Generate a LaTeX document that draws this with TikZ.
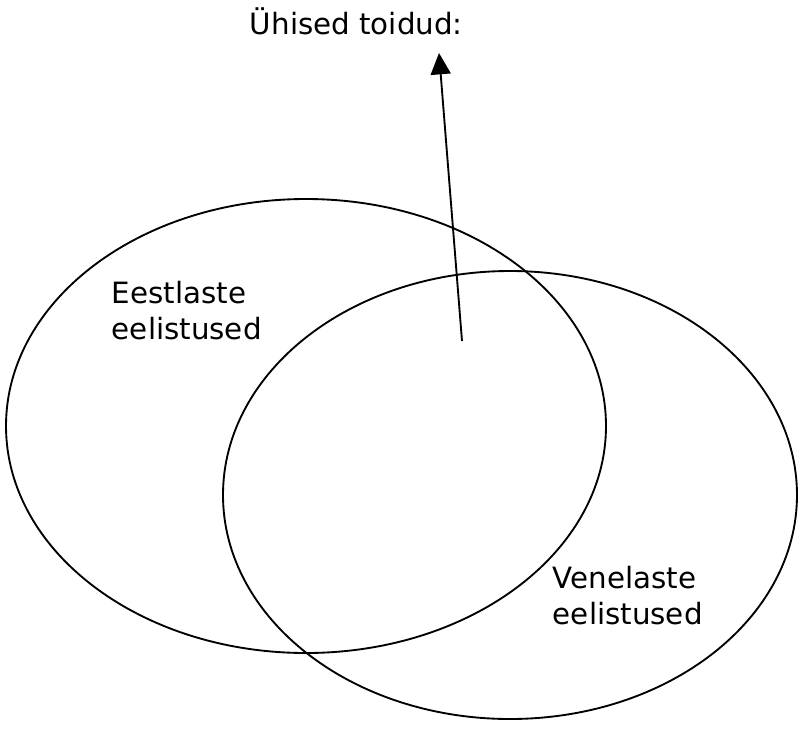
\documentclass[tikz,border=0pt]{standalone}
\usepackage{fontspec}
\setmainfont{DejaVu Sans}
\usetikzlibrary{arrows.meta,positioning}

\begin{document}
\begin{tikzpicture}[x=0.75pt,y=-0.75pt,
		set/.style={line width=1.4pt},
		label/.style={align=left,inner sep=0pt,font=\fontsize{22}{26.5}\selectfont},
		>={Triangle[length=16pt,width=15pt]},line width=1.4pt]
	\useasboundingbox (0,0) rectangle (800,729);
	\draw[set] (306,426) ellipse [x radius=300,y radius=227];
	\draw[set] (510,495) ellipse [x radius=287,y radius=224];
	\node[label,anchor=base west] (common) at (249,34) {Ühised toidud:};
	\node[label,anchor=base west] (est) at (111,339) {Eestlaste\\eelistused};
	\node[label,anchor=base west] (rus) at (552,624) {Venelaste\\eelistused};
	\coordinate (start) at (462,341);
	\coordinate (tip) at (439,53);
	\draw[->] (start) -- (tip);
\end{tikzpicture}
\end{document}
